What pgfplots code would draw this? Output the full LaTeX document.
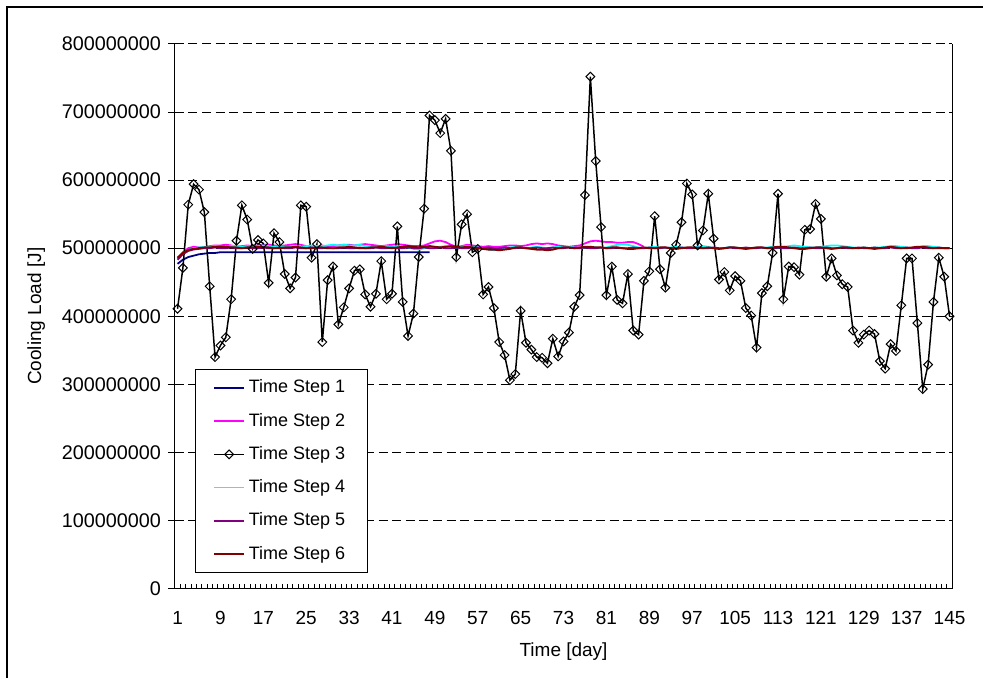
\documentclass[border=0pt]{standalone}
\usepackage{fontspec}
\setmainfont{Liberation Sans}
\usepackage{pgfplots}
\usepackage{pgfplotstable}
\pgfplotsset{compat=1.18}
\definecolor{tsone}{RGB}{0,0,128}
\definecolor{tstwo}{RGB}{255,0,255}
\definecolor{tsfour}{RGB}{0,255,255}
\definecolor{tsfive}{RGB}{128,0,128}
\definecolor{tssix}{RGB}{128,0,0}
\pgfplotstableread{
day s1 s2 s3 s4 s5 s6
1 477 485 411 484 483 486
2 483 494 471 492 491 493
3 487 500 564 497 496 497
4 489 502 594 500 498 499
5 491 501 586 501 499 500
6 492 501 553 502 500 501
7 493 503 444 502 500 501
8 493 504 340 503 501 502
9 494 504 357 502 500 502
10 494 505 369 502 500 502
11 494 504 425 503 501 501
12 494 502 511 503 500 501
13 494 503 563 502 500 500
14 494 504 542 503 501 501
15 494 503 499 502 500 501
16 494 504 512 503 500 502
17 494 505 507 504 501 501
18 494 505 449 503 500 501
19 494 504 522 502 500 500
20 494 503 509 503 501 500
21 494 504 462 502 500 501
22 494 505 441 502 500 501
23 494 506 457 503 501 502
24 494 505 563 502 500 501
25 494 503 561 503 500 500
26 494 501 486 504 501 500
27 494 502 506 503 500 501
28 494 504 362 503 500 501
29 494 502 453 504 501 500
30 494 503 473 505 500 500
31 494 504 388 504 500 501
32 494 505 413 505 501 501
33 494 505 441 504 500 502
34 494 504 467 504 500 501
35 494 505 469 505 501 500
36 494 506 432 503 500 500
37 494 505 414 502 500 501
38 494 504 433 501 501 501
39 494 503 481 502 500 502
40 494 504 425 503 500 501
41 494 505 433 502 501 500
42 494 506 532 503 500 501
43 494 505 421 502 500 502
44 494 504 371 501 501 503
45 494 503 404 499 500 502
46 494 503 487 498 500 501
47 494 504 558 500 501 502
48 494 507 695 502 500 503
49 nan 510 688 501 500 502
50 nan 511 669 502 501 501
51 nan 509 690 503 500 502
52 nan 505 643 502 500 503
53 nan 502 487 501 501 502
54 nan 503 535 502 500 501
55 nan 505 550 503 500 502
56 nan 504 494 502 501 501
57 nan 503 499 501 500 500
58 nan 502 432 500 500 499
59 nan 503 443 498 501 498
60 nan 502 412 497 500 498
61 nan 502 362 498 500 497
62 nan 503 343 500 501 498
63 nan 504 306 501 500 499
64 nan 504 315 502 500 501
65 nan 503 408 501 501 501
66 nan 504 361 500 500 500
67 nan 506 351 501 500 499
68 nan 507 340 502 501 498
69 nan 506 339 501 500 498
70 nan 507 331 500 500 497
71 nan 506 367 501 501 498
72 nan 504 341 502 500 500
73 nan 503 363 501 500 501
74 nan 502 376 502 501 501
75 nan 503 414 501 500 500
76 nan 504 431 500 500 501
77 nan 507 578 501 501 502
78 nan 510 752 502 500 502
79 nan 511 628 501 500 501
80 nan 510 531 500 501 501
81 nan 509 431 501 500 500
82 nan 509 473 503 500 501
83 nan 508 424 505 501 501
84 nan 508 419 506 500 500
85 nan 509 462 505 500 499
86 nan 509 379 503 501 499
87 nan 506 373 501 500 500
88 nan 502 452 500 500 501
89 nan nan 466 501 501 500
90 nan nan 547 502 500 500
91 nan nan 469 501 500 501
92 nan nan 442 500 501 501
93 nan nan 493 501 500 500
94 nan nan 505 502 500 499
95 nan nan 538 501 501 500
96 nan nan 595 500 500 501
97 nan nan 579 501 500 501
98 nan nan 504 502 501 500
99 nan nan 526 503 500 500
100 nan nan 580 502 500 501
101 nan nan 514 500 501 500
102 nan nan 454 499 500 499
103 nan nan 465 500 500 500
104 nan nan 438 502 501 501
105 nan nan 459 501 500 501
106 nan nan 452 500 500 500
107 nan nan 412 499 501 499
108 nan nan 401 500 500 500
109 nan nan 354 501 500 501
110 nan nan 434 500 501 501
111 nan nan 444 501 500 500
112 nan nan 493 502 500 501
113 nan nan 580 501 501 502
114 nan nan 425 502 500 502
115 nan nan 473 503 500 501
116 nan nan 472 504 501 500
117 nan nan 461 503 500 499
118 nan nan 527 502 500 499
119 nan nan 528 501 501 500
120 nan nan 565 501 500 501
121 nan nan 543 502 500 501
122 nan nan 458 503 501 500
123 nan nan 485 504 500 499
124 nan nan 460 504 500 500
125 nan nan 447 503 501 501
126 nan nan 443 502 500 501
127 nan nan 379 501 500 500
128 nan nan 361 500 501 500
129 nan nan 373 501 500 501
130 nan nan 379 500 500 500
131 nan nan 374 501 501 499
132 nan nan 334 501 500 500
133 nan nan 323 502 500 501
134 nan nan 359 503 501 502
135 nan nan 349 503 500 501
136 nan nan 416 502 500 500
137 nan nan 485 501 501 500
138 nan nan 485 500 500 501
139 nan nan 390 501 500 502
140 nan nan 293 503 501 502
141 nan nan 329 503 500 501
142 nan nan 421 502 500 500
143 nan nan 486 501 501 500
144 nan nan 458 500 500 500
145 nan nan 400 500 500 500
}\datatable
\begin{document}
\begin{tikzpicture}
\begin{axis}[
  name=ax,
  scale only axis,
  width=389pt, height=272.5pt,
  xmin=0.5, xmax=145.5,
  ymin=0, ymax=800,
  axis x line*=bottom,
  axis y line*=box,
  axis line style={black, line width=0.6pt, -},
  xtick={1,9,...,145},
  minor xtick={0.5,1.5,...,145.5},
  major x tick style={draw=none},
  minor x tick style={black, line width=0.4pt},
  minor tick length=2.5pt,
  ytick={0,100,...,800},
  yticklabels={0,100000000,200000000,300000000,400000000,500000000,600000000,700000000,800000000},
  ytick pos=left,
  y tick style={black, line width=0.5pt, xshift=-3.5pt},
  major tick length=3.5pt,
  ymajorgrids,
  grid style={black, line width=0.5pt, dash pattern=on 4.5pt off 2.3pt},
  /pgf/number format/assume math mode=true,
  xticklabel style={font=\fontsize{9.5}{11}\selectfont, yshift=-8pt},
  yticklabel style={font=\fontsize{9.9}{11}\selectfont, xshift=-3.5pt},
  xlabel={Time [day]},
  ylabel={Cooling Load [J]},
  label style={font=\fontsize{9.5}{11}\selectfont},
  xlabel style={yshift=-2pt},
  ylabel style={yshift=1.5pt},
  legend style={at={(0.0257,0.0294)}, anchor=south west, draw=black, line width=0.5pt,
    font=\fontsize{9}{11}\selectfont, row sep=4.6pt, inner xsep=9pt, inner ysep=3pt,
    cells={anchor=west}},
  legend cell align=left,
  legend image code/.code={\draw[mark repeat=2,mark phase=2,#1] plot coordinates {(0cm,0cm) (0.26cm,0cm) (0.52cm,0cm)};},
  unbounded coords=discard,
]
\addplot[tsone, line width=0.9pt, no markers] table[x=day, y=s1] {\datatable};
\addlegendentry{Time Step 1}
\addplot[tstwo, line width=0.9pt, no markers] table[x=day, y=s2] {\datatable};
\addlegendentry{Time Step 2}
\addplot[black, line width=0.75pt, mark=square, mark size=1.55pt, mark options={fill=white, line width=0.5pt, solid, rotate=45}] table[x=day, y=s3] {\datatable};
\addlegendentry{Time Step 3}
\addplot[tsfour, line width=0.9pt, no markers] table[x=day, y=s4] {\datatable};
\addlegendentry{Time Step 4}
\addplot[tsfive, line width=0.9pt, no markers] table[x=day, y=s5] {\datatable};
\addlegendentry{Time Step 5}
\addplot[tssix, line width=1pt, no markers] table[x=day, y=s6] {\datatable};
\addlegendentry{Time Step 6}
\end{axis}
\path (ax.south west) ++(-87.5pt,-45pt) coordinate (bl);
\path (bl) rectangle ++(492pt,339.5pt);
\draw[black, line width=0.8pt] ([xshift=3.5pt]bl) -- ++(0,336pt) -- ++(488.5pt,0);
\end{tikzpicture}
\end{document}
